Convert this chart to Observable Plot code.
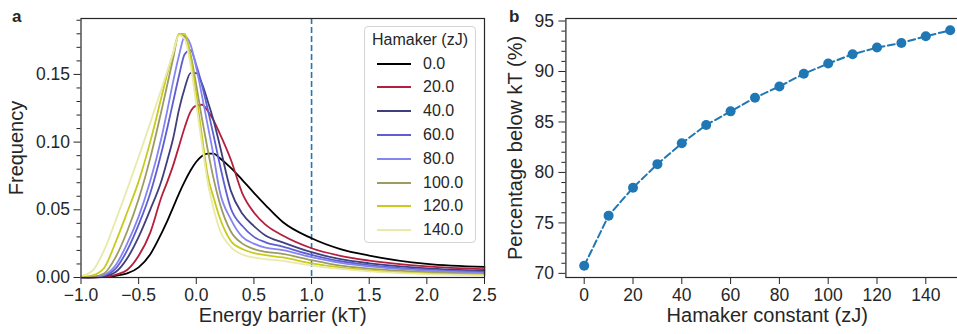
<!DOCTYPE html>
<html>
<head>
<meta charset="utf-8">
<script src="https://cdn.jsdelivr.net/npm/d3@7"></script>
<script src="https://cdn.jsdelivr.net/npm/@observablehq/plot@0.6"></script>
<style>
  html, body { margin: 0; padding: 0; background: #fff; overflow: hidden; }
  #wrap { position: relative; width: 957px; height: 334px; overflow: hidden;
          font-family: "Liberation Sans", Arial, sans-serif; color: #262626; }
  .panel { position: absolute; top: 0; }
  .letter { position: absolute; font-weight: bold; font-size: 17px; line-height: 17px; }
  #legend { position: absolute; left: 364px; top: 26px; width: 112px; height: 217px;
            box-sizing: border-box; border: 1px solid #d4d4d4; border-radius: 4px;
            background: rgba(255,255,255,0.85); font-size: 16px; }
  #legend .title { position: absolute; left: 0; width: 100%; top: 4px; text-align: center; }
  #legend .row { position: absolute; left: 0; height: 20px; }
  #legend .row svg { position: absolute; left: 11px; top: 0; }
  #legend .row span { position: absolute; left: 58px; top: 1px; white-space: nowrap; }
</style>
</head>
<body>
<div id="wrap">
  <div class="letter" style="left:12px;top:8px">a</div>
  <div class="letter" style="left:509px;top:8px">b</div>
</div>
<script>
// Panel a: energy-barrier distributions for several Hamaker constants
const energy = [-1.0, -0.9, -0.8, -0.7, -0.6, -0.5, -0.4, -0.3, -0.25, -0.2, -0.15, -0.1, -0.05,
                0.0, 0.05, 0.1, 0.15, 0.2, 0.3, 0.4, 0.5, 0.6, 0.75, 1.0, 1.25, 1.5, 2.0, 2.5];
const freq0   = [0, 0.0001, 0.0004, 0.0013, 0.003, 0.0075, 0.017, 0.033, 0.042, 0.052, 0.062, 0.071, 0.079,
                 0.0855, 0.0898, 0.0915, 0.0915, 0.0885, 0.081, 0.072, 0.0625, 0.0535, 0.041, 0.029, 0.021, 0.0162, 0.0100, 0.0078];
const freq20  = [0, 0.0001, 0.0005, 0.002, 0.0055, 0.016, 0.033, 0.060, 0.071, 0.083, 0.097, 0.111, 0.1225,
                 0.127, 0.1276, 0.123, 0.116, 0.107, 0.087, 0.062, 0.048, 0.039, 0.031, 0.0216, 0.016, 0.0125, 0.0082, 0.0062];
const freq40  = [0, 0.0002, 0.001, 0.004, 0.014, 0.030, 0.050, 0.072, 0.087, 0.103, 0.124, 0.140, 0.151,
                 0.151, 0.143, 0.130, 0.116, 0.099, 0.064, 0.047, 0.038, 0.031, 0.026, 0.0187, 0.0135, 0.0105, 0.0068, 0.0050];
const freq60  = [0, 0.0003, 0.0015, 0.0065, 0.020, 0.039, 0.062, 0.093, 0.111, 0.130, 0.149, 0.165, 0.168,
                 0.157, 0.142, 0.124, 0.105, 0.085, 0.051, 0.038, 0.030, 0.026, 0.0228, 0.0167, 0.012, 0.0092, 0.0058, 0.0040];
const freq80  = [0, 0.0004, 0.002, 0.009, 0.025, 0.045, 0.071, 0.104, 0.124, 0.145, 0.164, 0.178, 0.172,
                 0.155, 0.134, 0.112, 0.090, 0.065, 0.043, 0.030, 0.025, 0.022, 0.0203, 0.015, 0.0108, 0.0082, 0.0050, 0.0033];
const freq100 = [0.0001, 0.0006, 0.003, 0.015, 0.034, 0.058, 0.088, 0.124, 0.143, 0.162, 0.180, 0.178, 0.165,
                 0.142, 0.117, 0.094, 0.073, 0.056, 0.034, 0.025, 0.021, 0.019, 0.0175, 0.0128, 0.0088, 0.0066, 0.0040, 0.0025];
const freq120 = [0.0003, 0.0015, 0.007, 0.026, 0.048, 0.071, 0.100, 0.134, 0.151, 0.166, 0.180, 0.180, 0.163,
                 0.135, 0.104, 0.075, 0.059, 0.045, 0.027, 0.021, 0.018, 0.0165, 0.0148, 0.0105, 0.0074, 0.0053, 0.0030, 0.0020];
const freq140 = [0.001, 0.005, 0.020, 0.042, 0.065, 0.089, 0.114, 0.140, 0.153, 0.166, 0.179, 0.176, 0.157,
                 0.128, 0.098, 0.070, 0.051, 0.036, 0.0225, 0.017, 0.0148, 0.0136, 0.0123, 0.0088, 0.0063, 0.0045, 0.0025, 0.0015];
const hamakerLevels = [0, 20, 40, 60, 80, 100, 120, 140];
const curveColors = ["#000000", "#b3203f", "#3f3f7c", "#5e5ed2", "#8585f2", "#9c9c62", "#c9c91e", "#e9e9aa"];
const energyTicks = [-1.0, -0.5, 0.0, 0.5, 1.0, 1.5, 2.0, 2.5];
const freqTicks = [0, 0.05, 0.10, 0.15];
const freqMinorTicks = [0.01, 0.02, 0.03, 0.04, 0.06, 0.07, 0.08, 0.09, 0.11, 0.12, 0.13, 0.14, 0.16, 0.17, 0.18, 0.19];
const kTLine = [1.0];

// Panel b: share of barriers below kT against Hamaker constant
const hamakerConst = [0, 10, 20, 30, 40, 50, 60, 70, 80, 90, 100, 110, 120, 130, 140, 150];
const percentBelow = [70.76, 75.72, 78.49, 80.82, 82.89, 84.70, 86.05, 87.40, 88.52, 89.77,
                      90.79, 91.71, 92.37, 92.83, 93.49, 94.08];
const hamakerTicks = [0, 20, 40, 60, 80, 100, 120, 140];
const percentTicks = [70, 75, 80, 85, 90, 95];
const percentMinorTicks = d3.range(70, 96).filter(v => v % 5 !== 0);

const series = [freq0, freq20, freq40, freq60, freq80, freq100, freq120, freq140];
const curves = hamakerLevels.flatMap((h, i) => energy.map((e, j) => ({h, e, f: series[i][j]})));
const points = hamakerConst.map((h, i) => ({h, p: percentBelow[i]}));

const font = "'Liberation Sans', Arial, sans-serif";
const ink = "#262626";
const blue = "#1f77b4";

const chartA = Plot.plot({
  width: 488, height: 334,
  marginLeft: 80.5, marginRight: 4, marginTop: 18, marginBottom: 57,
  style: {fontFamily: font, fontSize: "17.5px", color: ink, background: "transparent", overflow: "visible"},
  x: {domain: [-1, 2.5]},
  y: {domain: [0, 0.1913]},
  color: {type: "ordinal", domain: hamakerLevels, range: curveColors},
  marks: [
    Plot.axisY(freqMinorTicks, {tickSize: 4, tickFormat: () => "", label: null}),
    Plot.axisY(freqTicks, {tickSize: 7, tickPadding: 4, tickFormat: d3.format(".2f"), label: null}),
    Plot.axisX(energyTicks, {tickSize: 7, tickPadding: 4, tickFormat: d3.format(".1f"), label: null}),
    Plot.ruleX(kTLine, {stroke: blue, strokeWidth: 1.6, strokeDasharray: "6,3"}),
    Plot.line(curves, {x: "e", y: "f", z: "h", stroke: "h", strokeWidth: 1.8, curve: "monotone-x"}),
    Plot.frame({stroke: ink, strokeWidth: 1.2}),
    Plot.text(["Frequency"], {frameAnchor: "left", rotate: -90, textAnchor: "middle", dx: -64, fontSize: 20}),
    Plot.text(["Energy barrier (kT)"], {frameAnchor: "bottom", dy: 44, fontSize: 20})
  ]
});

const chartB = Plot.plot({
  width: 483, height: 334,
  marginLeft: 77.4, marginRight: 3, marginTop: 18, marginBottom: 57,
  style: {fontFamily: font, fontSize: "17.5px", color: ink, background: "transparent", overflow: "visible"},
  x: {domain: [-7.5, 157.5]},
  y: {domain: [69.59, 95.25]},
  marks: [
    Plot.axisY(percentMinorTicks, {tickSize: 4, tickFormat: () => "", label: null}),
    Plot.axisY(percentTicks, {tickSize: 7, tickPadding: 5, tickFormat: d3.format("d"), label: null}),
    Plot.axisX(hamakerTicks, {tickSize: 7, tickPadding: 4, tickFormat: d3.format("d"), label: null}),
    Plot.line(points, {x: "h", y: "p", stroke: blue, strokeWidth: 2, strokeDasharray: "7,3.5"}),
    Plot.dot(points, {x: "h", y: "p", r: 5, fill: blue}),
    Plot.frame({stroke: ink, strokeWidth: 1.2}),
    Plot.text(["Percentage below kT (%)"], {frameAnchor: "left", rotate: -90, textAnchor: "middle", dx: -50, fontSize: 20}),
    Plot.text(["Hamaker constant (zJ)"], {frameAnchor: "bottom", dy: 44, fontSize: 20})
  ]
});

const wrap = document.getElementById("wrap");
chartA.classList.add("panel"); chartA.style.left = "0px";
chartB.classList.add("panel"); chartB.style.left = "488px";
wrap.appendChild(chartA);
wrap.appendChild(chartB);

// Legend for the Hamaker curves
const legend = document.createElement("div");
legend.id = "legend";
const title = document.createElement("div");
title.className = "title";
title.textContent = "Hamaker (zJ)";
legend.appendChild(title);
hamakerLevels.forEach((h, i) => {
  const row = document.createElement("div");
  row.className = "row";
  row.style.top = (26.5 + i * 23.8) + "px";
  row.innerHTML = `<svg width="36" height="20"><line x1="1" x2="35" y1="10" y2="10" stroke="${curveColors[i]}" stroke-width="2"/></svg><span>${d3.format(".1f")(h)}</span>`;
  legend.appendChild(row);
});
wrap.appendChild(legend);
</script>
</body>
</html>
